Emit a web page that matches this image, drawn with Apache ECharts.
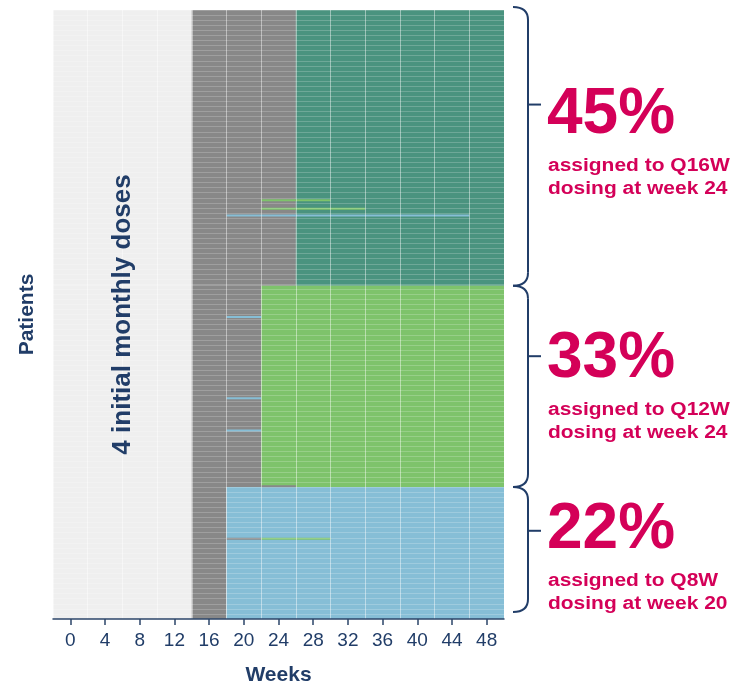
<!DOCTYPE html>
<html>
<head>
<meta charset="utf-8">
<title>Dosing intervals by week</title>
<script src="https://cdn.jsdelivr.net/npm/echarts@6/dist/echarts.min.js"></script>
<style>
  html, body { margin: 0; padding: 0; background: #ffffff; }
  #main { width: 734px; height: 682px; }
</style>
</head>
<body>
<div id="main"></div>
<script>
// Visit weeks (one column per visit)
const weeks = [0, 4, 8, 12, 16, 20, 24, 28, 32, 36, 40, 44, 48];

// Treatment groups, top to bottom, with patient counts
const groups = ['Q16W', 'Q12W', 'Q8W'];
const groupSizes = [163, 119, 78];
const assignWeeks = [24, 24, 20];

// Per-visit status of each group
const scheduleQ16W = ['load', 'load', 'load', 'load', 'pending', 'pending', 'pending', 'q16', 'q16', 'q16', 'q16', 'q16', 'q16'];
const scheduleQ12W = ['load', 'load', 'load', 'load', 'pending', 'pending', 'q12', 'q12', 'q12', 'q12', 'q12', 'q12', 'q12'];
const scheduleQ8W  = ['load', 'load', 'load', 'load', 'pending', 'q8', 'q8', 'q8', 'q8', 'q8', 'q8', 'q8', 'q8'];

// Individual patients whose interval differed: [patient row, from week, to week, status]
const deviations = [
  [112, 24, 28, 'q12'],
  [117, 24, 32, 'q12'],
  [121, 20, 44, 'q8'],
  [181, 20, 20, 'q8'],
  [229, 20, 20, 'q8'],
  [248, 20, 20, 'q8'],
  [281, 24, 24, 'pending'],
  [312, 20, 20, 'pending'],
  [312, 24, 28, 'q12']
];

const statusColors = {
  load: '#efefef',
  pending: '#888888',
  q16: '#4a937f',
  q12: '#7ec36b',
  q8: '#86bed6'
};
const NAVY = '#213d68';
const CRIMSON = '#d40058';
const FONT = '"Liberation Sans", Arial, sans-serif';

const schedules = [scheduleQ16W, scheduleQ12W, scheduleQ8W];
const totalPatients = groupSizes.reduce((a, b) => a + b, 0);

// Build blocks: [first visit index, last visit index, row start, row end, status, single-patient flag]
const blocks = [];
let rowStart = 0;
const groupBounds = [];
schedules.forEach((sched, g) => {
  const rowEnd = rowStart + groupSizes[g];
  groupBounds.push([rowStart, rowEnd]);
  let i = 0;
  while (i < sched.length) {
    let j = i;
    while (j + 1 < sched.length && sched[j + 1] === sched[i]) j++;
    blocks.push([i, j, rowStart, rowEnd, sched[i], false]);
    i = j + 1;
  }
  rowStart = rowEnd;
});
deviations.forEach(d => {
  blocks.push([weeks.indexOf(d[1]), weeks.indexOf(d[2]), d[0], d[0] + 1, d[3], true]);
});

const chart = echarts.init(document.getElementById('main'));

chart.setOption({
  animation: false,
  textStyle: { fontFamily: FONT },
  grid: { left: 53, right: 230, top: 10, bottom: 63, outerBoundsMode: 'none', containLabel: false },
  xAxis: {
    type: 'category',
    data: weeks,
    boundaryGap: true,
    z: 5,
    axisLine: { show: true, onZero: false, lineStyle: { color: '#2c4669', width: 1.5 } },
    axisTick: { show: true, alignWithLabel: true, interval: 0, length: 6, lineStyle: { color: '#2c4669', width: 1.5 } },
    axisLabel: { interval: 0, color: NAVY, fontSize: 19, margin: 12 },
    splitLine: { show: true, interval: 0, lineStyle: { color: 'rgba(255,255,255,0.45)', width: 1 } },
    name: 'Weeks',
    nameLocation: 'middle',
    nameGap: 46,
    nameTextStyle: { color: NAVY, fontSize: 21, fontWeight: 'bold' }
  },
  yAxis: {
    type: 'value',
    min: 0,
    max: totalPatients,
    interval: 3,
    inverse: true,
    z: 5,
    axisLine: { show: false },
    axisTick: { show: false },
    axisLabel: { show: false },
    splitLine: { show: true, lineStyle: { color: 'rgba(255,255,255,0.2)', width: 1 } },
    name: 'Patients',
    nameLocation: 'middle',
    nameRotate: 90,
    nameGap: 15,
    nameTextStyle: { color: NAVY, fontSize: 21, fontWeight: 'bold' }
  },
  series: [{
    type: 'custom',
    encode: { x: [0, 1], y: [2, 3] },
    data: blocks.map(b => [b[0], b[1], b[2], b[3]]),
    renderItem: function (params, api) {
      const b = blocks[params.dataIndex];
      const bw = api.size([1, 0])[0];
      const p0 = api.coord([api.value(0), api.value(2)]);
      const p1 = api.coord([api.value(1), api.value(3)]);
      const x0 = p0[0] - bw / 2;
      const x1 = p1[0] + bw / 2;
      let y = p0[1];
      let h = p1[1] - p0[1];
      if (b[5] && h < 2) {
        // single-patient rows: keep them at least 2px tall so they stay visible
        y -= (2 - h) / 2;
        h = 2;
      }
      return {
        type: 'rect',
        z2: b[5] ? 2 : 1,
        shape: { x: x0, y: y, width: x1 - x0, height: h },
        style: { fill: statusColors[b[4]] }
      };
    }
  }]
});

// Annotations: loading-dose caption, braces and group labels
const px = (row) => chart.convertToPixel({ yAxisIndex: 0 }, row);
const xPx = (idx) => chart.convertToPixel({ xAxisIndex: 0 }, idx);

const loadCount = scheduleQ16W.filter(s => s === 'load').length;
const loadCenterX = (xPx(0) + xPx(loadCount - 1)) / 2;
const plotTop = px(0), plotBottom = px(totalPatients);

const graphics = [{
  type: 'text',
  x: loadCenterX,
  y: (plotTop + plotBottom) / 2,
  rotation: Math.PI / 2,
  style: {
    text: loadCount + ' initial monthly doses',
    fill: NAVY,
    font: 'bold 26px ' + FONT,
    align: 'center',
    verticalAlign: 'middle'
  },
  z: 10
}];

const braceLeft = 513, braceMid = 528, braceTick = 541, curl = 13;
const bigBaselines = [138, 382, 553];

groupBounds.forEach((gb, g) => {
  let y0 = px(gb[0]);
  let y1 = px(gb[1]);
  if (g === 0) y0 -= 3;
  if (g === groups.length - 1) y1 -= 7;
  const yt = y0 + 0.35 * (y1 - y0);
  const line = { stroke: NAVY, lineWidth: 2, fill: null };
  graphics.push(
    { type: 'bezierCurve', shape: { x1: braceLeft, y1: y0, cpx1: braceMid, cpy1: y0, x2: braceMid, y2: y0 + curl }, style: line, z: 10 },
    { type: 'line', shape: { x1: braceMid, y1: y0 + curl, x2: braceMid, y2: y1 - curl }, style: line, z: 10 },
    { type: 'bezierCurve', shape: { x1: braceMid, y1: y1 - curl, cpx1: braceMid, cpy1: y1, x2: braceLeft, y2: y1 }, style: line, z: 10 },
    { type: 'line', shape: { x1: braceMid, y1: yt, x2: braceTick, y2: yt }, style: line, z: 10 }
  );

  const pct = Math.round(groupSizes[g] / totalPatients * 100) + '%';
  const base = bigBaselines[g];
  graphics.push({
    type: 'text',
    x: 547,
    y: base - 0.355 * 64,
    style: { text: pct, fill: CRIMSON, font: 'bold 64px ' + FONT, align: 'left', verticalAlign: 'middle' },
    z: 10
  });
  const lines = ['assigned to ' + groups[g], 'dosing at week ' + assignWeeks[g]];
  lines.forEach((t, k) => {
    graphics.push({
      type: 'text',
      x: 548,
      y: base + 34 + 23.5 * k - 0.355 * 18,
      scaleX: 1.165,
      style: { text: t, fill: CRIMSON, font: 'bold 18px ' + FONT, align: 'left', verticalAlign: 'middle' },
      z: 10
    });
  });
});

chart.setOption({ graphic: graphics });
</script>
</body>
</html>
